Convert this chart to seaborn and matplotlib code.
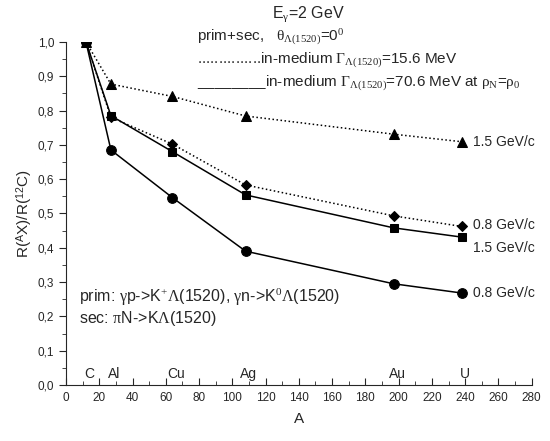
import matplotlib
matplotlib.use("Agg")
import matplotlib.pyplot as plt
import seaborn as sns
import pandas as pd
import numpy as np
from matplotlib.ticker import MultipleLocator, FuncFormatter

# Data
A = [12, 27, 64, 108, 197, 238]
elements = ["C", "Al", "Cu", "Ag", "Au", "U"]
dotted_15 = [1.0, 0.877, 0.841, 0.784, 0.731, 0.709]   # triangles, in-medium 15.6 MeV, 1.5 GeV/c
dotted_08 = [1.0, 0.780, 0.702, 0.583, 0.493, 0.462]   # diamonds, in-medium 15.6 MeV, 0.8 GeV/c
solid_15 = [1.0, 0.785, 0.680, 0.554, 0.458, 0.431]    # squares, in-medium 70.6 MeV, 1.5 GeV/c
solid_08 = [1.0, 0.685, 0.546, 0.390, 0.295, 0.268]    # circles, in-medium 70.6 MeV, 0.8 GeV/c

sns.set_style("ticks")
plt.rcParams['font.family'] = ['Liberation Sans', 'DejaVu Sans']
plt.rcParams['mathtext.fontset'] = 'custom'
plt.rcParams['mathtext.rm'] = 'Liberation Serif'
plt.rcParams['mathtext.it'] = 'Liberation Serif'
plt.rcParams['mathtext.cal'] = 'Liberation Serif'
plt.rcParams['mathtext.sf'] = 'Liberation Sans'

fig = plt.figure(figsize=(5.5, 4.41), dpi=100)
ax = fig.add_axes([0.12, 0.127, 0.8467, 0.778])

series = [
    (dotted_15, "^", ":", 7),
    (dotted_08, "D", ":", 5.5),
    (solid_15, "s", "-", 6),
    (solid_08, "o", "-", 7),
]
for vals, m, ls, ms in series:
    df = pd.DataFrame({"A": A, "R": vals})
    sns.lineplot(data=df, x="A", y="R", ax=ax, color="black", linestyle=ls,
                 marker=m, markersize=ms, markeredgecolor="black",
                 markerfacecolor="black", linewidth=1.1)

ax.set_xlim(0, 280)
ax.set_ylim(0, 1.0)
ax.xaxis.set_major_locator(MultipleLocator(20))
ax.xaxis.set_minor_locator(MultipleLocator(10))
ax.yaxis.set_major_locator(MultipleLocator(0.1))
ax.yaxis.set_minor_locator(MultipleLocator(0.05))
ax.yaxis.set_major_formatter(FuncFormatter(lambda v, p: f"{v:.1f}".replace(".", ",")))
ax.tick_params(axis="x", which="both", direction="in", labelsize=8.5, pad=5)
ax.tick_params(axis="x", which="major", length=5)
ax.tick_params(axis="x", which="minor", length=3)
ax.tick_params(axis="y", which="both", direction="out", labelsize=8.5)
ax.tick_params(axis="y", which="major", length=5)
ax.tick_params(axis="y", which="minor", length=3)
for s in ["top", "right"]:
    ax.spines[s].set_visible(False)
ax.set_xlabel("A", fontsize=11, labelpad=6)
ax.set_ylabel(r"R($^{\mathsf{A}}$X)/R($^{\mathsf{12}}$C)", fontsize=11, labelpad=2)

# element labels
for a, el in zip(A, elements):
    ax.text(a + 2, 0.012, el, fontsize=10, ha="center", va="bottom")

# right labels
ax.text(245, dotted_15[-1], "1.5 GeV/c", fontsize=10, va="center", ha="left")
ax.text(245, dotted_08[-1] + 0.003, "0.8 GeV/c", fontsize=10, va="center", ha="left")
ax.text(245, solid_15[-1] - 0.032, "1.5 GeV/c", fontsize=10, va="center", ha="left")
ax.text(245, solid_08[-1], "0.8 GeV/c", fontsize=10, va="center", ha="left")

# header text
hs = 11
fig.text(272/550, 1 - 14/441, r"E$_{\gamma}$=2 GeV", fontsize=hs + 0.5, va="center")
fig.text(197/550, 1 - 37/441, r"prim+sec,   $\theta_{\Lambda(1520)}$=0$^{0}$", fontsize=hs, va="center")
fig.text(197/550, 1 - 60/441, r"...............in-medium $\Gamma_{\Lambda(1520)}$=15.6 MeV", fontsize=hs, va="center")
fig.text(197/550, 1 - 83/441, r"________in-medium $\Gamma_{\Lambda(1520)}$=70.6 MeV at $\rho_{N}$=$\rho_{0}$", fontsize=hs, va="center")

# bottom-left notes
ax.text(8, 0.254, r"prim: $\gamma$p->K$^{+}\Lambda$(1520), $\gamma$n->K$^{0}\Lambda$(1520)", fontsize=11.5, va="center")
ax.text(8, 0.195, r"sec: $\pi$N->K$\Lambda$(1520)", fontsize=11.5, va="center")

fig.savefig("out.png", dpi=100)
